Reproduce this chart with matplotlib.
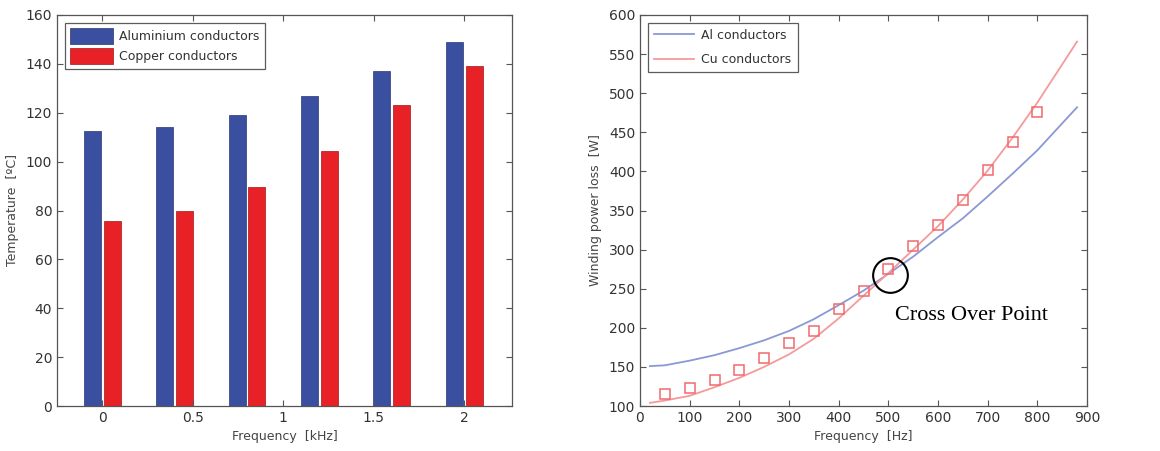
import matplotlib
matplotlib.use("Agg")
import matplotlib.pyplot as plt
import numpy as np

# ---- Data: left bar chart ----
freq_khz = [0, 0.4, 0.8, 1.2, 1.6, 2.0]
temp_al = [112.5, 114.3, 119, 127, 137.2, 149]
temp_cu = [75.8, 79.7, 89.5, 104.5, 123.3, 139]
bar_xticks = [0, 0.5, 1, 1.5, 2]
bar_xticklabels = ["0", "0.5", "1", "1.5", "2"]

# ---- Data: right line chart ----
line_f = [20, 50, 100, 150, 200, 250, 300, 350, 400, 450, 500, 550, 600, 650, 700, 750, 800, 880]
loss_al = [151, 152, 158, 165, 174, 184, 196, 211, 229, 247.5, 269, 291, 316, 340, 368, 397, 427, 482]
loss_cu = [104, 107, 113, 124, 136, 150, 166, 186, 212, 241, 270, 300, 330, 364, 401, 443, 488, 566]
meas_f = [50, 100, 150, 200, 250, 300, 350, 400, 450, 500, 550, 600, 650, 700, 750, 800]
meas_cu = [115, 122.6, 133, 146, 162, 181, 196, 223.6, 246.6, 274.8, 305, 331, 363, 401.8, 438, 475.5]
cross_pt = (503, 267.5)

blue = "#3a4fa0"
red = "#e82127"
lblue = "#8b98d4"
lred = "#f59a9a"
txt = "#333333"
spine_c = "#555555"

fig = plt.figure(figsize=(11.6, 4.51), dpi=100)
ax1 = fig.add_axes([57/1160, 1-406/451, 455/1160, 391/451])
ax2 = fig.add_axes([640/1160, 1-406/451, 447/1160, 391/451])

def style(ax):
    for s in ax.spines.values():
        s.set_color(spine_c)
        s.set_linewidth(0.9)
    ax.tick_params(direction="in", top=True, right=True, length=4,
                   colors=spine_c, labelcolor=txt, labelsize=10, width=0.8)

# Left chart
w = 0.094
off = 0.055
x = np.array(freq_khz)
ax1.bar(x - off, temp_al, width=w, color=blue, edgecolor="#2a3570", linewidth=0.5,
        label="Aluminium conductors")
ax1.bar(x + off, temp_cu, width=w, color=red, edgecolor="#a01518", linewidth=0.5,
        label="Copper conductors")
ax1.set_xlim(-0.25, 2.265)
ax1.set_ylim(0, 160)
ax1.set_xticks(bar_xticks)
ax1.set_xticklabels(bar_xticklabels)
ax1.set_yticks(np.arange(0, 161, 20))
ax1.set_xlabel("Frequency  [kHz]", fontsize=9, color="#444444", labelpad=4)
ax1.set_ylabel("Temperature  [ºC]", fontsize=9, color="#444444", labelpad=5)
style(ax1)
leg1 = ax1.legend(loc="upper left", fontsize=9, frameon=True, fancybox=False,
                  edgecolor="#333333", handlelength=3.4, handleheight=1.55,
                  borderaxespad=0.6, labelspacing=0.35, handletextpad=0.5,
                  borderpad=0.45)
leg1.get_frame().set_linewidth(0.9)
for t in leg1.get_texts():
    t.set_color(txt)

# Right chart
ax2.plot(line_f, loss_al, color=lblue, lw=1.3, label="Al conductors")
ax2.plot(line_f, loss_cu, color=lred, lw=1.3, label="Cu conductors")
ax2.plot(meas_f, meas_cu, ls="none", marker="s", ms=7, mfc="none", mec="#f06a6e", mew=1.1)
ax2.plot([cross_pt[0]], [cross_pt[1]], marker="o", ms=25, mfc="none", mec="black", mew=1.5, ls="none")
ax2.text(513, 216, "Cross Over Point", fontsize=16, family="Liberation Serif",
         ha="left", va="center", color="black")
ax2.set_xlim(0, 900)
ax2.set_ylim(100, 600)
ax2.set_xticks(np.arange(0, 901, 100))
ax2.set_yticks(np.arange(100, 601, 50))
ax2.set_xlabel("Frequency  [Hz]", fontsize=9, color="#444444", labelpad=4)
ax2.set_ylabel("Winding power loss  [W]", fontsize=9, color="#444444", labelpad=5)
style(ax2)
leg2 = ax2.legend(loc="upper left", fontsize=9, frameon=True, fancybox=False,
                  edgecolor="#333333", handlelength=3.2,
                  borderaxespad=0.6, labelspacing=0.9, handletextpad=0.6,
                  borderpad=0.5)
leg2.get_frame().set_linewidth(0.9)
for t in leg2.get_texts():
    t.set_color(txt)

fig.savefig("out.png", dpi=100)
